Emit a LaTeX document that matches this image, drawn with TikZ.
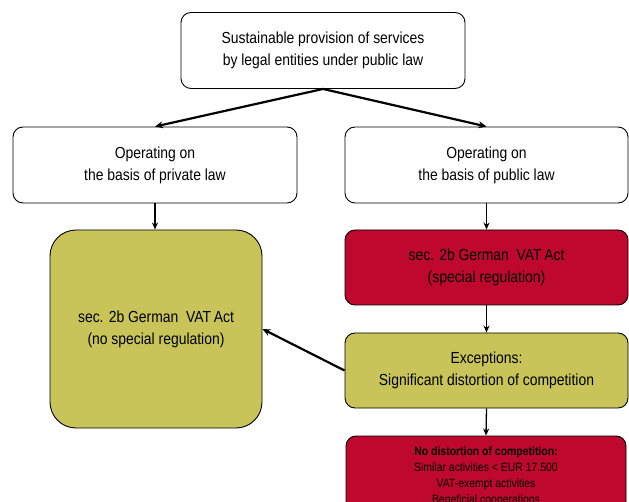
\documentclass[tikz,border=0pt]{standalone}
\usepackage{fontspec}
\setmainfont{Liberation Sans}[FakeStretch=0.87]
\usetikzlibrary{arrows.meta}
\definecolor{olivey}{RGB}{200,196,90}
\definecolor{crimson}{RGB}{190,8,46}
\tikzset{
  box/.style={draw=black, line width=0.9pt, rounded corners=10pt, align=center, font=\fontsize{16}{22}\selectfont, inner sep=2pt},
  wbox/.style={box, fill=white, minimum width=284pt, minimum height=76pt},
  conn/.style={-{Stealth[length=7pt,width=6pt]}, line width=1.3pt},
  thick conn/.style={-{Stealth[length=8pt,width=7pt]}, line width=2.2pt}
}
\begin{document}
\begin{tikzpicture}[x=1pt,y=-1pt]
\useasboundingbox (0,0) rectangle (629,502);
\clip (0,0) rectangle (629,502);
\node[wbox] (top) at (323,50.5) {Sustainable provision of services\\by legal entities under public law};
\node[wbox] (priv) at (155,165) {Operating on\\the basis of private law};
\node[wbox, minimum width=283pt] (pub) at (486.5,165) {Operating on\\the basis of public law};
\node[box, fill=olivey, rounded corners=26pt, minimum width=212pt, minimum height=198pt] (nospec) at (156,329) {sec. 2b German\ \ VAT\,Act\\(no special regulation)};
\node[box, fill=crimson, minimum width=283pt, minimum height=75pt] (spec) at (486.5,267.5) {sec. 2b German\ \ VAT\,Act\\(special regulation)};
\node[box, fill=olivey, minimum width=283pt, minimum height=75pt] (exc) at (486.5,370.5) {Exceptions:\\Significant distortion of competition};
\node[box, fill=crimson, minimum width=280pt, minimum height=80pt, font=\fontsize{12}{16}\selectfont] (nodist) at (486,476) {\textbf{No distortion of competition:}\\Similar activities < EUR 17.500\\VAT-exempt activities\\Beneficial cooperations};
\draw[thick conn] (top.south) -- (priv.north);
\draw[thick conn] (top.south) -- (pub.north);
\draw[conn] (priv.south) -- (nospec.north -| priv.south);
\draw[conn] (pub.south) -- (spec.north);
\draw[conn] (spec.south) -- (exc.north);
\draw[conn] (exc.south) -- (nodist.north);
\draw[thick conn] (exc.west) -- (nospec.east);
\end{tikzpicture}
\end{document}
